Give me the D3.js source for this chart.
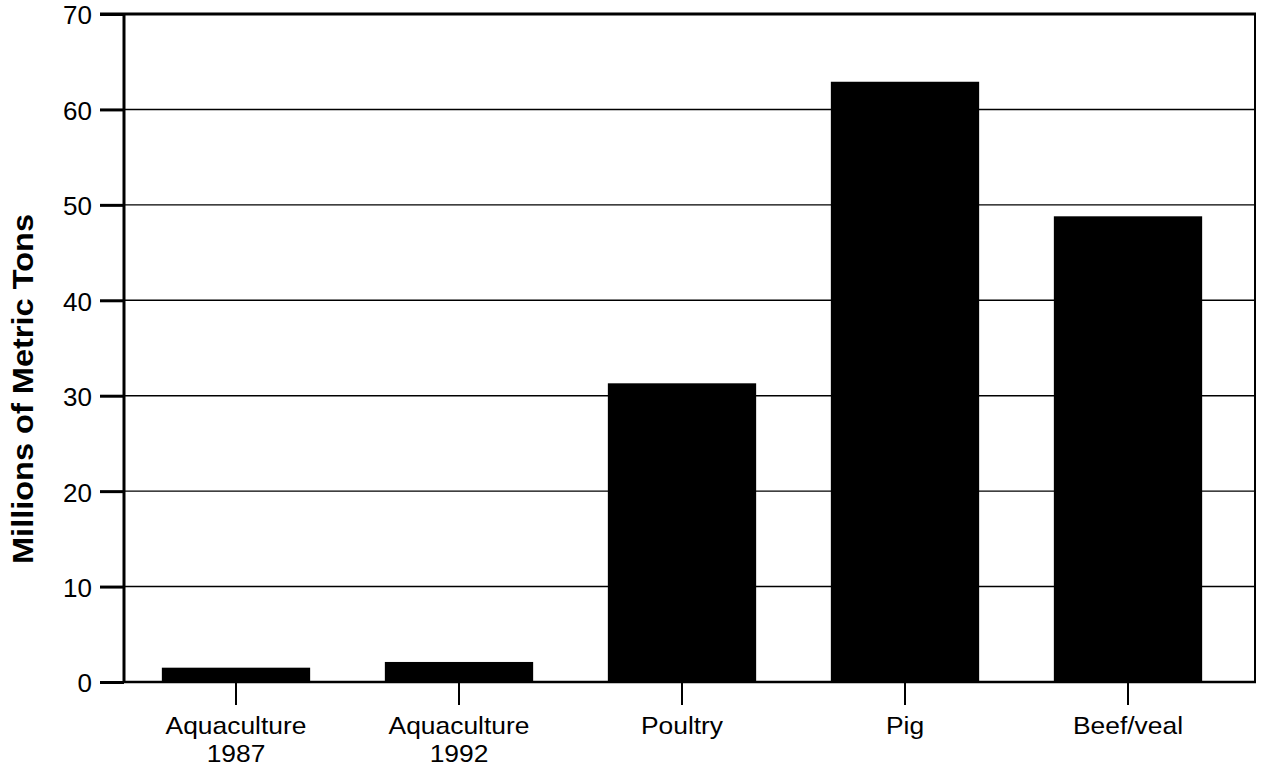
<!DOCTYPE html>
<html>
<head>
<meta charset="utf-8">
<script src="https://cdn.jsdelivr.net/npm/d3@7"></script>
<style>
  html, body { margin: 0; padding: 0; background: #fff; }
  svg { display: block; }
  text { font-family: "Liberation Sans", Arial, Helvetica, sans-serif; fill: #000; }
</style>
</head>
<body>
<svg id="chart" width="1261" height="769"></svg>
<script>
// Meat and aquaculture production, millions of metric tons
const categories = ["Aquaculture 1987", "Aquaculture 1992", "Poultry", "Pig", "Beef/veal"];
const categoryLines = [["Aquaculture", "1987"], ["Aquaculture", "1992"], ["Poultry"], ["Pig"], ["Beef/veal"]];
const values = [1.5, 2.1, 31.3, 62.9, 48.8];
const yTicks = [0, 10, 20, 30, 40, 50, 60, 70];
const yTitle = "Millions of Metric Tons";

const svg = d3.select("#chart");
const plot = { left: 124, right: 1255, top: 14, bottom: 682 };

const x = d3.scaleBand()
  .domain(categories)
  .range([124.5, 1239.5])
  .paddingInner(0.335)
  .paddingOuter(0.1675);

const y = d3.scaleLinear()
  .domain([0, 70])
  .range([plot.bottom, plot.top]);

// horizontal grid lines
svg.append("g")
  .selectAll("line")
  .data(yTicks.filter(d => d > 0 && d < 70))
  .join("line")
  .attr("x1", plot.left).attr("x2", plot.right)
  .attr("y1", d => y(d)).attr("y2", d => y(d))
  .attr("stroke", "#000").attr("stroke-width", 1.4);

// bars
svg.append("g")
  .selectAll("rect")
  .data(values)
  .join("rect")
  .attr("x", (d, i) => x(categories[i]))
  .attr("width", x.bandwidth())
  .attr("y", d => y(d))
  .attr("height", d => y(0) - y(d))
  .attr("fill", "#000");

// frame: top and right edges
svg.append("line")
  .attr("x1", 100).attr("x2", plot.right + 1)
  .attr("y1", y(70)).attr("y2", y(70))
  .attr("stroke", "#000").attr("stroke-width", 3);
svg.append("line")
  .attr("x1", plot.right).attr("x2", plot.right)
  .attr("y1", y(70)).attr("y2", y(0))
  .attr("stroke", "#000").attr("stroke-width", 2);

// y axis
const yAxis = svg.append("g")
  .attr("transform", `translate(${plot.left},0)`)
  .call(d3.axisLeft(y).tickValues(yTicks).tickSize(24).tickPadding(8).tickFormat(d3.format("d")));
yAxis.select(".domain").attr("stroke-width", 3).attr("d", `M0,${plot.top}V${plot.bottom}`);
yAxis.selectAll(".tick line").attr("stroke-width", 3);
yAxis.selectAll(".tick text")
  .attr("font-size", 26)
  .attr("font-family", "'Liberation Sans', Arial, Helvetica, sans-serif")
  .attr("dy", "0.38em");

// baseline
svg.append("line")
  .attr("x1", plot.left).attr("x2", plot.right + 1)
  .attr("y1", y(0)).attr("y2", y(0))
  .attr("stroke", "#000").attr("stroke-width", 2.5);

// x axis ticks and category labels (slightly widened type)
const xAxis = svg.append("g")
  .attr("transform", `translate(0,${plot.bottom})`)
  .call(d3.axisBottom(x).tickSize(23).tickFormat(""));
xAxis.select(".domain").remove();
xAxis.selectAll(".tick line").attr("stroke-width", 2);
xAxis.selectAll(".tick").each(function(d, i) {
  const t = d3.select(this).append("text")
    .attr("text-anchor", "middle")
    .attr("transform", "scale(1.1,1)")
    .attr("font-size", 24)
    .attr("font-family", "'Liberation Sans', Arial, Helvetica, sans-serif")
    .attr("fill", "#000");
  categoryLines[i].forEach((line, k) => {
    t.append("tspan").attr("x", 0).attr("y", 52 + k * 28).text(line);
  });
});

// y axis title
svg.append("text")
  .attr("transform", "translate(33,389) rotate(-90)")
  .attr("text-anchor", "middle")
  .attr("font-size", 29)
  .attr("font-weight", "bold")
  .attr("textLength", 350)
  .attr("lengthAdjust", "spacingAndGlyphs")
  .text(yTitle);
</script>
</body>
</html>
